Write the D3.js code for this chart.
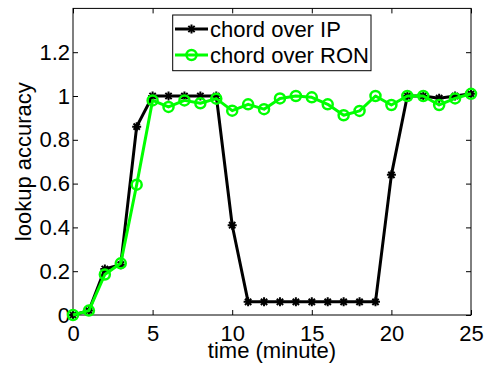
<!DOCTYPE html>
<html>
<head>
<meta charset="utf-8">
<script src="https://cdn.jsdelivr.net/npm/d3@7"></script>
<style>
  body { margin: 0; background: #fff; }
  text { font-family: "Liberation Sans", Arial, Helvetica, sans-serif; }
</style>
</head>
<body>
<div id="chart"></div>
<script>
// minutes
const times = [0, 1, 2, 3, 4, 5, 6, 7, 8, 9, 10, 11, 12, 13, 14, 15, 16, 17, 18, 19, 20, 21, 22, 23, 24, 25];
const chordOverIP = [0, 0.02, 0.21, 0.23, 0.86, 1, 1, 1, 1, 1, 0.41, 0.06, 0.06, 0.06, 0.06, 0.06, 0.06, 0.06, 0.06, 0.06, 0.64, 1, 1, 0.99, 1, 1.01];
const chordOverRON = [0, 0.02, 0.185, 0.236, 0.595, 0.98, 0.95, 0.98, 0.967, 0.988, 0.933, 0.962, 0.94, 0.989, 1.0, 0.994, 0.962, 0.912, 0.932, 1.0, 0.959, 1.0, 1.0, 0.959, 0.989, 1.01];
const seriesNames = ['chord over IP', 'chord over RON'];
const xTicks = [0, 5, 10, 15, 20, 25];
const yTicks = [0, 0.2, 0.4, 0.6, 0.8, 1, 1.2];
const yTickLabels = ['0', '0.2', '0.4', '0.6', '0.8', '1', '1.2'];

const width = 487, height = 366;
const plotLeft = 73, plotRight = 471, plotTop = 8.4, plotBottom = 315;
const fontSize = 22;

const svg = d3.select('#chart').append('svg')
  .attr('width', width)
  .attr('height', height);

const x = d3.scaleLinear().domain([0, 25]).range([plotLeft, plotRight]);
const y = d3.scaleLinear().domain([0, 1.4]).range([plotBottom, plotTop]);

// axes (ticks point inward, on all four sides)
const styleAxis = g => {
  g.select('.domain').remove();
  g.selectAll('line').attr('stroke', '#000').attr('stroke-width', 1);
  g.selectAll('text').attr('font-size', fontSize).attr('fill', '#000');
};

svg.append('g')
  .attr('transform', `translate(0,${plotBottom})`)
  .call(d3.axisBottom(x).tickValues(xTicks).tickSizeInner(-5).tickSizeOuter(0).tickPadding(10))
  .call(styleAxis);

svg.append('g')
  .attr('transform', `translate(0,${plotTop})`)
  .call(d3.axisTop(x).tickValues(xTicks).tickSizeInner(-5).tickSizeOuter(0).tickFormat(''))
  .call(styleAxis);

svg.append('g')
  .attr('transform', `translate(${plotLeft},0)`)
  .call(d3.axisLeft(y).tickValues(yTicks).tickSizeInner(-5).tickSizeOuter(0).tickPadding(3)
    .tickFormat((d, i) => yTickLabels[i]))
  .call(styleAxis);

svg.append('g')
  .attr('transform', `translate(${plotRight},0)`)
  .call(d3.axisRight(y).tickValues(yTicks).tickSizeInner(-5).tickSizeOuter(0).tickFormat(''))
  .call(styleAxis);

svg.append('rect')
  .attr('x', plotLeft).attr('y', plotTop)
  .attr('width', plotRight - plotLeft).attr('height', plotBottom - plotTop)
  .attr('fill', 'none').attr('stroke', '#000').attr('stroke-width', 1);

// axis titles
svg.append('text')
  .attr('x', (plotLeft + plotRight) / 2).attr('y', 358)
  .attr('text-anchor', 'middle').attr('font-size', fontSize)
  .text('time (minute)');

svg.append('text')
  .attr('transform', `translate(31,${(plotTop + plotBottom) / 2}) rotate(-90)`)
  .attr('text-anchor', 'middle').attr('font-size', fontSize)
  .text('lookup accuracy');

// markers
function drawStar(g, cx, cy, s) {
  const d = `M${cx - s},${cy}L${cx + s},${cy}M${cx},${cy - s}L${cx},${cy + s}` +
    `M${cx - s * 0.7},${cy - s * 0.7}L${cx + s * 0.7},${cy + s * 0.7}` +
    `M${cx - s * 0.7},${cy + s * 0.7}L${cx + s * 0.7},${cy - s * 0.7}`;
  g.append('path').attr('d', d).attr('stroke', '#000').attr('stroke-width', 2).attr('fill', 'none');
}

const line = d3.line().x(d => x(d[0])).y(d => y(d[1]));

const ipData = times.map((t, i) => [t, chordOverIP[i]]);
const ronData = times.map((t, i) => [t, chordOverRON[i]]);

const gIP = svg.append('g');
gIP.append('path').attr('d', line(ipData))
  .attr('fill', 'none').attr('stroke', '#000').attr('stroke-width', 3).attr('stroke-linejoin', 'round');
ipData.forEach(d => drawStar(gIP, x(d[0]), y(d[1]), 4.5));

const gRON = svg.append('g');
gRON.append('path').attr('d', line(ronData))
  .attr('fill', 'none').attr('stroke', '#00ff00').attr('stroke-width', 3).attr('stroke-linejoin', 'round');
gRON.selectAll('circle').data(ronData).enter().append('circle')
  .attr('cx', d => x(d[0])).attr('cy', d => y(d[1])).attr('r', 5)
  .attr('fill', 'none').attr('stroke', '#00ff00').attr('stroke-width', 2.5);

// legend
const lg = svg.append('g');
lg.append('rect')
  .attr('x', 172.7).attr('y', 15).attr('width', 198.3).attr('height', 55.7)
  .attr('fill', '#fff').attr('stroke', '#000').attr('stroke-width', 1);

[0, 1].forEach(i => {
  const ly = 29 + i * 26;
  const g = lg.append('g');
  g.append('line').attr('x1', 175).attr('x2', 208).attr('y1', ly).attr('y2', ly)
    .attr('stroke', i === 0 ? '#000' : '#00ff00').attr('stroke-width', 3);
  if (i === 0) drawStar(g, 191.5, ly, 4.5);
  else g.append('circle').attr('cx', 191.5).attr('cy', ly).attr('r', 5)
    .attr('fill', 'none').attr('stroke', '#00ff00').attr('stroke-width', 2.5);
  g.append('text').attr('x', 210).attr('y', ly + 8).attr('font-size', fontSize)
    .text(seriesNames[i]);
});
</script>
</body>
</html>
